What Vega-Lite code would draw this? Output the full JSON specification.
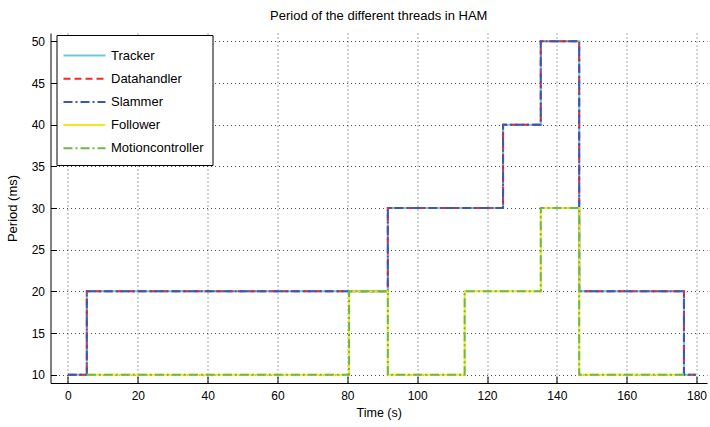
{
  "$schema": "https://vega.github.io/schema/vega-lite/v6.json",
  "autosize": {"type": "none"},
  "padding": {"left": 50.5, "top": 33, "right": 3, "bottom": 44},
  "width": 656.5,
  "height": 350,
  "background": "white",
  "title": {"text": "Period of the different threads in HAM", "fontSize": 13, "font": "Liberation Sans", "fontWeight": "normal", "color": "black", "offset": 10},
  "config": {
    "view": {"stroke": null},
    "font": "Liberation Sans"
  },
  "data": {"values": [
    {"series": "Tracker", "t": 0, "p": 10},
    {"series": "Tracker", "t": 5.4, "p": 20},
    {"series": "Tracker", "t": 91.6, "p": 30},
    {"series": "Tracker", "t": 124.6, "p": 40},
    {"series": "Tracker", "t": 135.4, "p": 50},
    {"series": "Tracker", "t": 146.4, "p": 20},
    {"series": "Tracker", "t": 176.4, "p": 10},
    {"series": "Tracker", "t": 179.8, "p": 10},
    {"series": "Datahandler", "t": 0, "p": 10},
    {"series": "Datahandler", "t": 5.4, "p": 20},
    {"series": "Datahandler", "t": 91.6, "p": 30},
    {"series": "Datahandler", "t": 124.6, "p": 40},
    {"series": "Datahandler", "t": 135.4, "p": 50},
    {"series": "Datahandler", "t": 146.4, "p": 20},
    {"series": "Datahandler", "t": 176.4, "p": 10},
    {"series": "Datahandler", "t": 179.8, "p": 10},
    {"series": "Slammer", "t": 0, "p": 10},
    {"series": "Slammer", "t": 5.4, "p": 20},
    {"series": "Slammer", "t": 91.6, "p": 30},
    {"series": "Slammer", "t": 124.6, "p": 40},
    {"series": "Slammer", "t": 135.4, "p": 50},
    {"series": "Slammer", "t": 146.4, "p": 20},
    {"series": "Slammer", "t": 176.4, "p": 10},
    {"series": "Slammer", "t": 179.8, "p": 10},
    {"series": "Follower", "t": 5.4, "p": 10},
    {"series": "Follower", "t": 80.5, "p": 20},
    {"series": "Follower", "t": 91.6, "p": 10},
    {"series": "Follower", "t": 113.6, "p": 20},
    {"series": "Follower", "t": 135.4, "p": 30},
    {"series": "Follower", "t": 146.4, "p": 10},
    {"series": "Follower", "t": 176.4, "p": 10},
    {"series": "Motioncontroller", "t": 5.4, "p": 10},
    {"series": "Motioncontroller", "t": 80.5, "p": 20},
    {"series": "Motioncontroller", "t": 91.6, "p": 10},
    {"series": "Motioncontroller", "t": 113.6, "p": 20},
    {"series": "Motioncontroller", "t": 135.4, "p": 30},
    {"series": "Motioncontroller", "t": 146.4, "p": 10},
    {"series": "Motioncontroller", "t": 176.4, "p": 10}
  ]},
  "mark": {"type": "line", "interpolate": "step-after", "strokeWidth": 2, "clip": true},
  "encoding": {
    "x": {
      "field": "t", "type": "quantitative",
      "scale": {"domain": [-5, 183], "nice": false, "zero": false},
      "axis": {
        "title": "Time (s)", "titleFont": "Liberation Sans", "titleFontSize": 12.5, "titleFontWeight": "normal", "titleColor": "black", "titlePadding": 5,
        "values": [0, 20, 40, 60, 80, 100, 120, 140, 160, 180],
        "labelFont": "Liberation Sans", "labelFontSize": 12, "labelColor": "black", "labelPadding": 14,
        "domainColor": "black", "tickColor": "black", "tickSize": -7,
        "grid": true, "gridColor": "#222", "gridDash": [1, 3], "gridWidth": 1, "gridOpacity": 0.8
      }
    },
    "y": {
      "field": "p", "type": "quantitative",
      "scale": {"domain": [9, 51], "nice": false, "zero": false},
      "axis": {
        "title": "Period (ms)", "titleFont": "Liberation Sans", "titleFontSize": 13, "titleFontWeight": "normal", "titleColor": "black", "titlePadding": 12,
        "values": [10, 15, 20, 25, 30, 35, 40, 45, 50],
        "labelFont": "Liberation Sans", "labelFontSize": 12, "labelColor": "black", "labelPadding": 12,
        "domainColor": "black", "tickColor": "black", "tickSize": -6,
        "grid": true, "gridColor": "#222", "gridDash": [1, 3], "gridWidth": 1, "gridOpacity": 0.8
      }
    },
    "color": {
      "field": "series", "type": "nominal",
      "scale": {"domain": ["Tracker", "Datahandler", "Slammer", "Follower", "Motioncontroller"], "range": ["#6cc9dc", "#f02a2a", "#3a58b0", "#f2e81c", "#6abb45"]},
      "legend": {
        "title": null, "orient": "none", "legendX": 6, "legendY": 2,
        "symbolType": "M-2,0H2", "symbolSize": 441, "symbolStrokeWidth": 2, "symbolOffset": 7.5,
        "labelFont": "Liberation Sans", "labelFontSize": 13, "labelColor": "black", "labelOffset": 15,
        "strokeColor": "black", "fillColor": "white", "padding": 9, "rowPadding": 4.2
      }
    },
    "strokeDash": {
      "field": "series", "type": "nominal",
      "scale": {"domain": ["Tracker", "Datahandler", "Slammer", "Follower", "Motioncontroller"], "range": [[1, 0], [7, 4], [9, 3, 2, 3], [1, 0], [9, 3, 2, 3]]},
      "legend": null
    },
    "order": {"field": "t", "type": "quantitative"}
  }
}
